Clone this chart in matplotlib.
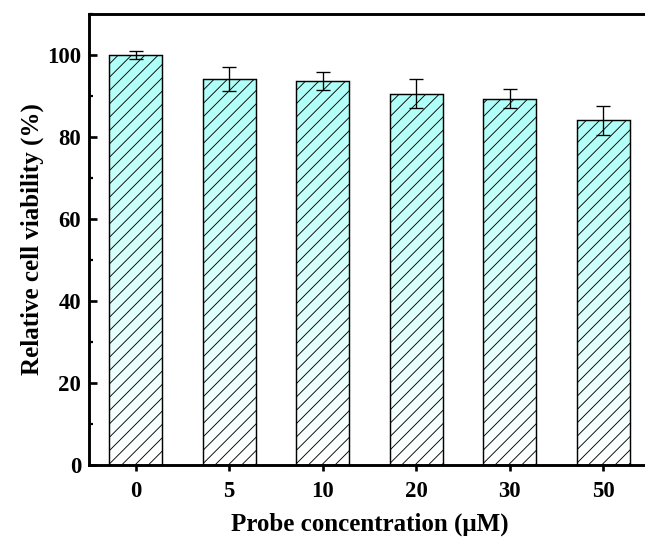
import numpy as np
import matplotlib
matplotlib.use('Agg')
import matplotlib.pyplot as plt
from matplotlib.colors import LinearSegmentedColormap
from matplotlib.ticker import MultipleLocator

# data
conc_labels = ['0', '5', '10', '20', '30', '50']
viability   = [100.0, 94.1, 93.6, 90.6, 89.3, 84.1]
errors      = [1.0, 2.9, 2.2, 3.5, 2.3, 3.5]

plt.rcParams['font.family'] = 'Liberation Serif'
plt.rcParams['font.weight'] = 'bold'
plt.rcParams['hatch.linewidth'] = 0.8

DPI = 80
fig = plt.figure(figsize=(645 / DPI, 541 / DPI), dpi=DPI)
ax = fig.add_axes([89 / 645, 76 / 541, 561 / 645, 451 / 541])

x = np.arange(len(conc_labels))
bars = ax.bar(x, viability, width=0.57, facecolor='none', edgecolor='black',
              linewidth=1.3, hatch='//', zorder=3)

# vertical cyan -> white gradient inside each bar
cmap = LinearSegmentedColormap.from_list('cyanfade', ['#ffffff', '#aefff8'])
grad = np.linspace(0, 1, 256).reshape(-1, 1)
for b in bars:
    x0, w, h = b.get_x(), b.get_width(), b.get_height()
    im = ax.imshow(grad, cmap=cmap, origin='lower', aspect='auto',
                   extent=[x0, x0 + w, 0, h], zorder=2)
    im.set_clip_path(b)

ax.errorbar(x, viability, yerr=errors, fmt='none', ecolor='black',
            elinewidth=1.2, capsize=6, capthick=1.2, zorder=4)

ax.set_xlim(-0.5, 5.5)
ax.set_ylim(0, 110)
ax.set_xticks(x)
ax.set_xticklabels(conc_labels)
ax.yaxis.set_major_locator(MultipleLocator(20))
ax.yaxis.set_minor_locator(MultipleLocator(10))

for s in ['left', 'bottom', 'top', 'right']:
    ax.spines[s].set_linewidth(2.6)
ax.tick_params(axis='x', which='major', direction='out', length=5, width=2.4,
               labelsize=20.5, pad=9)
ax.tick_params(axis='y', which='major', direction='in', length=7, width=2.4,
               labelsize=20.5, pad=7)
ax.tick_params(axis='y', which='minor', direction='in', length=4, width=2.0)

ax.set_xlabel('Probe concentration (μM)', fontsize=22.5, fontweight='bold', labelpad=10)
ax.set_ylabel('Relative cell viability (%)', fontsize=22.5, fontweight='bold', labelpad=3)

fig.savefig('out.png', dpi=DPI)
